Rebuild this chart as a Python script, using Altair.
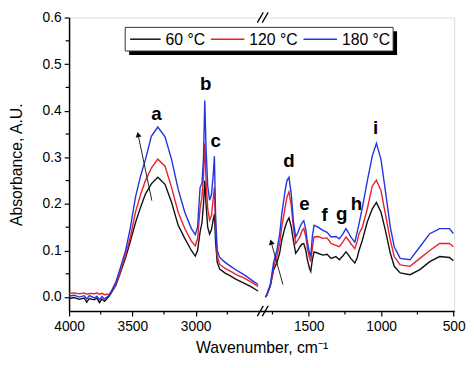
import altair as alt
import pandas as pd

# ---------------- data ----------------
series_names = ["60 °C", "120 °C", "180 °C"]
series_colors = ["#111111", "#e8202a", "#2233e0"]

wn_left = [4000, 3960, 3920, 3880, 3860, 3840, 3800, 3780, 3760, 3740, 3720, 3700,
           3680, 3660, 3631, 3600, 3553, 3515, 3475, 3435, 3397, 3350, 3299, 3242,
           3190, 3138, 3086, 3034, 3003, 2985, 2965, 2950, 2938, 2928, 2918, 2905,
           2890, 2875, 2862, 2852, 2843, 2830, 2810, 2770, 2723, 2680, 2619, 2560, 2507]
black_left = [-0.003, -0.001, -0.005, -0.002, -0.011, -0.003, -0.006, -0.002, -0.012, -0.004, -0.009, -0.003,
              0.003, 0.012, 0.025, 0.048, 0.085, 0.12, 0.16, 0.193, 0.221, 0.243, 0.257, 0.242,
              0.203, 0.154, 0.126, 0.10, 0.088, 0.10, 0.14, 0.16, 0.20, 0.25, 0.20, 0.15,
              0.135, 0.145, 0.165, 0.178, 0.12, 0.075, 0.06, 0.052, 0.045, 0.038, 0.030, 0.022, 0.013]
red_left = [0.008, 0.009, 0.007, 0.009, 0.006, 0.008, 0.007, 0.009, 0.006, 0.008, 0.005, 0.006,
            0.007, 0.014, 0.027, 0.05, 0.09, 0.13, 0.183, 0.22, 0.25, 0.277, 0.296, 0.281,
            0.235, 0.182, 0.147, 0.12, 0.11, 0.125, 0.19, 0.215, 0.26, 0.33, 0.25, 0.19,
            0.165, 0.175, 0.21, 0.235, 0.15, 0.088, 0.07, 0.062, 0.055, 0.048, 0.041, 0.032, 0.023]
blue_left = [0.002, 0.004, 0.0, 0.003, -0.004, 0.003, -0.002, 0.002, -0.006, 0.001, -0.004, 0.0,
             0.005, 0.016, 0.032, 0.058, 0.10, 0.15, 0.215, 0.26, 0.295, 0.345, 0.365, 0.344,
             0.295, 0.231, 0.182, 0.147, 0.134, 0.15, 0.235, 0.245, 0.30, 0.422, 0.32, 0.24,
             0.208, 0.22, 0.26, 0.302, 0.18, 0.10, 0.085, 0.075, 0.066, 0.058, 0.048, 0.037, 0.027]

wn_right = [1799, 1790, 1765, 1742, 1720, 1700, 1686, 1663, 1650, 1636, 1620, 1606, 1590,
            1575, 1561, 1545, 1534, 1520, 1509, 1495, 1486, 1475, 1463, 1436, 1402, 1373,
            1346, 1312, 1289, 1265, 1243, 1225, 1210, 1182, 1165, 1153, 1130, 1096, 1062,
            1033, 1001, 971, 937, 910, 869, 801, 733, 665, 597, 529, 502]
black_right = [0.0, 0.003, 0.023, 0.059, 0.073, 0.095, 0.122, 0.15, 0.162, 0.17, 0.15, 0.122, 0.094,
               0.10, 0.108, 0.114, 0.115, 0.10, 0.08, 0.062, 0.055, 0.08, 0.097, 0.094, 0.09, 0.092,
               0.083, 0.087, 0.08, 0.088, 0.097, 0.09, 0.083, 0.073, 0.085, 0.10, 0.122, 0.161, 0.189,
               0.203, 0.182, 0.143, 0.094, 0.066, 0.052, 0.048, 0.059, 0.076, 0.087, 0.085, 0.078]
red_right = [0.0, 0.004, 0.025, 0.065, 0.087, 0.115, 0.15, 0.192, 0.215, 0.226, 0.195, 0.15, 0.115,
             0.122, 0.129, 0.143, 0.147, 0.13, 0.104, 0.085, 0.076, 0.105, 0.129, 0.13, 0.126, 0.127,
             0.115, 0.111, 0.108, 0.118, 0.129, 0.122, 0.115, 0.104, 0.12, 0.136, 0.15, 0.189, 0.238,
             0.251, 0.228, 0.178, 0.122, 0.087, 0.069, 0.066, 0.083, 0.10, 0.115, 0.115, 0.108]
blue_right = [0.0, 0.005, 0.027, 0.075, 0.10, 0.135, 0.178, 0.228, 0.25, 0.257, 0.22, 0.164, 0.129,
              0.138, 0.15, 0.16, 0.164, 0.145, 0.118, 0.095, 0.087, 0.13, 0.154, 0.15, 0.143, 0.139,
              0.129, 0.13, 0.125, 0.135, 0.147, 0.138, 0.129, 0.118, 0.14, 0.157, 0.192, 0.249, 0.302,
              0.33, 0.295, 0.228, 0.15, 0.108, 0.083, 0.08, 0.108, 0.136, 0.147, 0.147, 0.136]

peak_letters = ["a", "b", "c", "d", "e", "f", "g", "h", "i"]
peak_wn = [3309, 2920, 2842, 1636, 1529, 1391, 1273, 1171, 1039]
peak_abs = [0.381, 0.445, 0.323, 0.279, 0.187, 0.164, 0.166, 0.187, 0.351]

arrow_wn_from = [3346, 1678]
arrow_abs_from = [0.207, 0.027]
arrow_wn_to = [3455, 1759]
arrow_abs_to = [0.349, 0.118]

major_ticks = [4000, 3500, 3000, 1500, 1000, 500]
minor_ticks = [3750, 3250, 2750, 1750, 1250, 750]
y_major = [0.0, 0.1, 0.2, 0.3, 0.4, 0.5, 0.6]
y_minor = [0.05, 0.15, 0.25, 0.35, 0.45, 0.55]

# ---------------- broken-axis transform ----------------
L_SCALE = 0.12843
R_OFF = 199.0
R_SCALE = 0.14706
BREAK_POS = 196.5


def pos_expr(field):
    return (f"datum.{field} > 2200 ? (4000 - datum.{field}) * {L_SCALE} : "
            f"{R_OFF} + (1800 - datum.{field}) * {R_SCALE}")


def pos_py(w):
    return round((4000 - w) * L_SCALE if w > 2200 else R_OFF + (1800 - w) * R_SCALE, 3)


major_pos = [pos_py(w) for w in major_ticks]
label_expr = ""
for w, p in zip(major_ticks, major_pos):
    label_expr += f"abs(datum.value - {p}) < 0.5 ? '{w}' : "
label_expr += "''"

rows = []
for name, wl, vl, wr, vr in [
    (series_names[0], wn_left, black_left, wn_right, black_right),
    (series_names[1], wn_left, red_left, wn_right, red_right),
    (series_names[2], wn_left, blue_left, wn_right, blue_right),
]:
    for w, v in zip(wl, vl):
        rows.append({"wn": w, "A": v, "series": name, "seg": "L"})
    for w, v in zip(wr, vr):
        rows.append({"wn": w, "A": v, "series": name, "seg": "R"})
df = pd.DataFrame(rows)

FONT = "Liberation Sans"
X_DOMAIN = [0, 390.7]
Y_DOMAIN = [-0.03, 0.6]

xscale = alt.Scale(domain=X_DOMAIN, nice=False, zero=False)
yscale = alt.Scale(domain=Y_DOMAIN, nice=False, zero=False)
cscale = alt.Scale(domain=series_names, range=series_colors)

x_axis = alt.Axis(
    values=major_pos,
    labelExpr=label_expr,
    labelOverlap=False,
    tickSize=5,
    title="Wavenumber, cm⁻¹",
    titleFontSize=16, titleFontWeight="normal", titleFont=FONT, titlePadding=6,
    labelFontSize=14, labelFont=FONT, labelPadding=4, labelColor="black",
    domainColor="black", domainWidth=1.5, tickColor="black", tickWidth=1.2,
    grid=False, labelFlush=False,
)
y_axis = alt.Axis(
    values=y_major,
    format=".1f",
    labelOverlap=False,
    tickSize=5,
    title="Absorbance, A.U.",
    titleFontSize=16, titleFontWeight="normal", titleFont=FONT, titlePadding=18,
    labelFontSize=14, labelFont=FONT, labelPadding=3, labelColor="black",
    domainColor="black", domainWidth=1.5, tickColor="black", tickWidth=1.2,
    grid=False,
)

lines = alt.Chart(df).transform_calculate(
    pos=pos_expr("wn")
).mark_line(strokeWidth=1.4).encode(
    x=alt.X("pos:Q", scale=xscale, axis=x_axis),
    y=alt.Y("A:Q", scale=yscale, axis=y_axis),
    color=alt.Color("series:N", scale=cscale, sort=series_names, legend=None),
    detail="seg:N",
    order=alt.Order("pos:Q"),
)

# minor ticks (outward, short)
xminor = alt.Chart(pd.DataFrame({"wn": minor_ticks})).transform_calculate(
    pos=pos_expr("wn")
).mark_rule(color="black", strokeWidth=1.2).encode(
    x=alt.X("pos:Q", scale=xscale), y=alt.value(298), y2=alt.value(301.5)
)
yminor = alt.Chart(pd.DataFrame({"A": y_minor})).mark_rule(color="black", strokeWidth=1.2).encode(
    y=alt.Y("A:Q", scale=yscale), x=alt.value(-3.5), x2=alt.value(0)
)

# ---------------- hand-made legend (boxed, with drop shadow) ----------------
one = pd.DataFrame({"k": [0]})
legend_shadow = alt.Chart(one).mark_rect(color="black").encode(
    x=alt.value(61), x2=alt.value(333), y=alt.value(14), y2=alt.value(38)
)
legend_box = alt.Chart(one).mark_rect(fill="white", stroke="#333333", strokeWidth=1).encode(
    x=alt.value(57), x2=alt.value(329), y=alt.value(10), y2=alt.value(34)
)
leg_df = pd.DataFrame({
    "series": series_names,
    "lx1": [62, 144, 238],
    "lx2": [93, 178, 272],
    "tx": [98, 183, 277],
})
legend_lines = alt.Chart(leg_df).mark_rule(strokeWidth=1.5).encode(
    x=alt.X("lx1:Q", scale=None), x2="lx2:Q", y=alt.value(22),
    color=alt.Color("series:N", scale=cscale, legend=None),
)
legend_text = alt.Chart(leg_df).mark_text(
    fontSize=16, font=FONT, align="left", baseline="middle", color="black", dy=1
).encode(x=alt.X("tx:Q", scale=None), y=alt.value(22), text="series:N")

labels_df = pd.DataFrame({"t": peak_letters, "wn": peak_wn, "A": peak_abs})
letters = alt.Chart(labels_df).transform_calculate(
    pos=pos_expr("wn")
).mark_text(fontSize=19, fontWeight="bold", font=FONT, baseline="alphabetic",
            align="center", color="black").encode(
    x=alt.X("pos:Q", scale=xscale), y=alt.Y("A:Q", scale=yscale), text="t:N"
)

arrows_df = pd.DataFrame({"w1": arrow_wn_from, "a1": arrow_abs_from,
                          "w2": arrow_wn_to, "a2": arrow_abs_to, "k": [0, 1]})
arrow_base = alt.Chart(arrows_df).transform_calculate(p1=pos_expr("w1"), p2=pos_expr("w2"))
arrow_lines = arrow_base.mark_rule(color="#222222", strokeWidth=1).encode(
    x=alt.X("p1:Q", scale=xscale), y=alt.Y("a1:Q", scale=yscale),
    x2="p2:Q", y2="a2:Q",
)
head1 = arrow_base.transform_filter("datum.k == 0").mark_point(
    shape="triangle-up", filled=True, size=38, color="#111111", angle=348, opacity=1
).encode(x=alt.X("p2:Q", scale=xscale), y=alt.Y("a2:Q", scale=yscale))
head2 = arrow_base.transform_filter("datum.k == 1").mark_point(
    shape="triangle-up", filled=True, size=38, color="#111111", angle=344, opacity=1
).encode(x=alt.X("p2:Q", scale=xscale), y=alt.Y("a2:Q", scale=yscale))

# axis-break slashes on the top and bottom frame lines
brk = pd.DataFrame({
    "x1": [BREAK_POS - 5.5, BREAK_POS - 0.5, BREAK_POS - 5.5, BREAK_POS - 0.5],
    "x2": [BREAK_POS + 0.5, BREAK_POS + 5.5, BREAK_POS + 0.5, BREAK_POS + 5.5],
    "y1": [Y_DOMAIN[1] - 0.011] * 2 + [Y_DOMAIN[0] - 0.011] * 2,
    "y2": [Y_DOMAIN[1] + 0.011] * 2 + [Y_DOMAIN[0] + 0.011] * 2,
})
breaks = alt.Chart(brk).mark_rule(color="black", strokeWidth=1.3).encode(
    x=alt.X("x1:Q", scale=xscale), x2="x2:Q",
    y=alt.Y("y1:Q", scale=yscale), y2="y2:Q",
)

chart = alt.layer(
    lines, xminor, yminor, arrow_lines, head1, head2, letters, breaks,
    legend_shadow, legend_box, legend_lines, legend_text,
).properties(
    width=391, height=298, padding={"left": 0, "top": 0, "right": 0, "bottom": 0}
).configure_view(stroke="black", strokeWidth=1.5).configure(background="white")

chart.save("out.html", embed_options={"renderer": "svg", "actions": False})
